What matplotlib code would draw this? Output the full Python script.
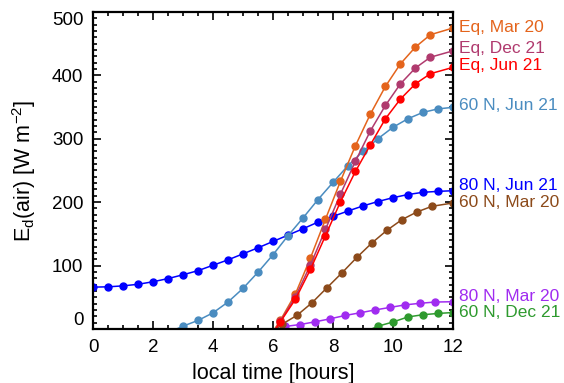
import numpy as np
import matplotlib.pyplot as plt
from matplotlib.ticker import MultipleLocator

plt.rcParams['font.family'] = ['Liberation Sans', 'DejaVu Sans']
plt.rcParams['mathtext.fontset'] = 'custom'
plt.rcParams['mathtext.rm'] = 'Liberation Sans'
plt.rcParams['mathtext.it'] = 'Liberation Sans:italic'

# local time [hours] and downwelling irradiance [W m-2]
t_80n_jun = np.arange(0, 12.5, 0.5)
ed_80n_jun = [66, 66.5, 68, 70.5, 74.5, 79.5, 85.5, 92, 100.5, 109, 118.5, 128, 138,
              148, 158, 168.5, 177.5, 186, 194, 201, 207, 212, 215.5, 217, 218]

t_60n_jun = np.arange(2.5, 12.5, 0.5)
ed_60n_jun = [-6, 4.5, 13.5, 25.5, 42.5, 64, 89.5, 117, 147, 175, 204, 231, 257.5,
              280, 300, 318, 331.5, 341.5, 347, 349.5]

t_eq = [5.75, 6.25, 6.75, 7.25, 7.75, 8.25, 8.75, 9.25, 9.75, 10.25, 10.75, 11.25, 12.0]
ed_eq_mar = [-22, 14, 55.5, 112, 173, 233, 289, 339, 382.5, 418, 444.5, 464, 474.5]
ed_eq_dec = [-24, 12.5, 51, 101, 157, 212.5, 264.5, 312.5, 352.5, 386.5, 411.5, 428.5, 438.5]
ed_eq_jun = [-25, 11.5, 47, 94, 147, 200.5, 248.5, 290.5, 331.5, 362.5, 386.5, 402.5, 412.5]

t_60n_mar = [5.8, 6.3, 6.8, 7.3, 7.8, 8.3, 8.8, 9.3, 9.8, 10.3, 10.8, 11.3, 12.0]
ed_60n_mar = [-12, 7.5, 21.5, 41.3, 65, 88.5, 113, 135.7, 155.6, 172.4, 184.5, 193.4, 198.7]

t_80n_mar = [5.9, 6.4, 6.9, 7.4, 7.9, 8.4, 8.9, 9.4, 9.9, 10.4, 10.9, 11.4, 12.0]
ed_80n_mar = [-4, 4, 7, 11.3, 16, 21.3, 25.5, 30, 34, 38, 40.5, 42.5, 43]

t_60n_dec = [9.0, 9.5, 10.0, 10.5, 11.0, 11.5, 12.0]
ed_60n_dec = [-6, 4.4, 11, 19, 22.5, 24.5, 26]

series = [
    ('60 N, Dec 21', t_60n_dec, ed_60n_dec, '#2e9a2e', 26),
    ('80 N, Mar 20', t_80n_mar, ed_80n_mar, '#a02cf0', 51),
    ('60 N, Mar 20', t_60n_mar, ed_60n_mar, '#8c4a1a', 199),
    ('80 N, Jun 21', t_80n_jun, ed_80n_jun, '#0000ff', 226),
    ('60 N, Jun 21', t_60n_jun, ed_60n_jun, '#4a8cc0', 352),
    ('Eq, Mar 20', t_eq, ed_eq_mar, '#e4641c', 476),
    ('Eq, Dec 21', t_eq, ed_eq_dec, '#b03a6e', 442),
    ('Eq, Jun 21', t_eq, ed_eq_jun, '#ff0000', 415),
]

fig = plt.figure(figsize=(5.64, 3.83), dpi=100)
ax = fig.add_axes([0.165, 0.141, 0.638, 0.828])

for label, t, ed, color, label_y in series:
    ax.plot(t, ed, '-o', color=color, lw=1.1, ms=5, mec=color)
    ax.text(12.2, label_y, label, color=color, fontsize=12.5, va='center', ha='left',
            clip_on=False)

ax.set_xlim(0, 12)
ax.set_ylim(0, 500)
ax.set_xticks(range(0, 13, 2))
ax.set_yticks(range(0, 501, 100))
ax.xaxis.set_minor_locator(MultipleLocator(0.5))
ax.yaxis.set_minor_locator(MultipleLocator(10))
ax.tick_params(which='both', direction='in', top=True, right=True, labelsize=13.5, pad=7)
ax.tick_params(which='major', length=6, width=1.2)
ax.tick_params(which='minor', length=3.2, width=1.2)
for s in ax.spines.values():
    s.set_linewidth(1.6)

ylabs = ax.get_yticklabels()
ylabs[0].set_va('bottom')
ylabs[-1].set_va('top')

ax.set_xlabel('local time [hours]', fontsize=15.5, labelpad=5)
ax.set_ylabel(r'E$_{\mathrm{d}}$(air) [W m$^{\mathrm{-2}}$]', fontsize=15.5, labelpad=10)

fig.savefig('out.png', dpi=100)
